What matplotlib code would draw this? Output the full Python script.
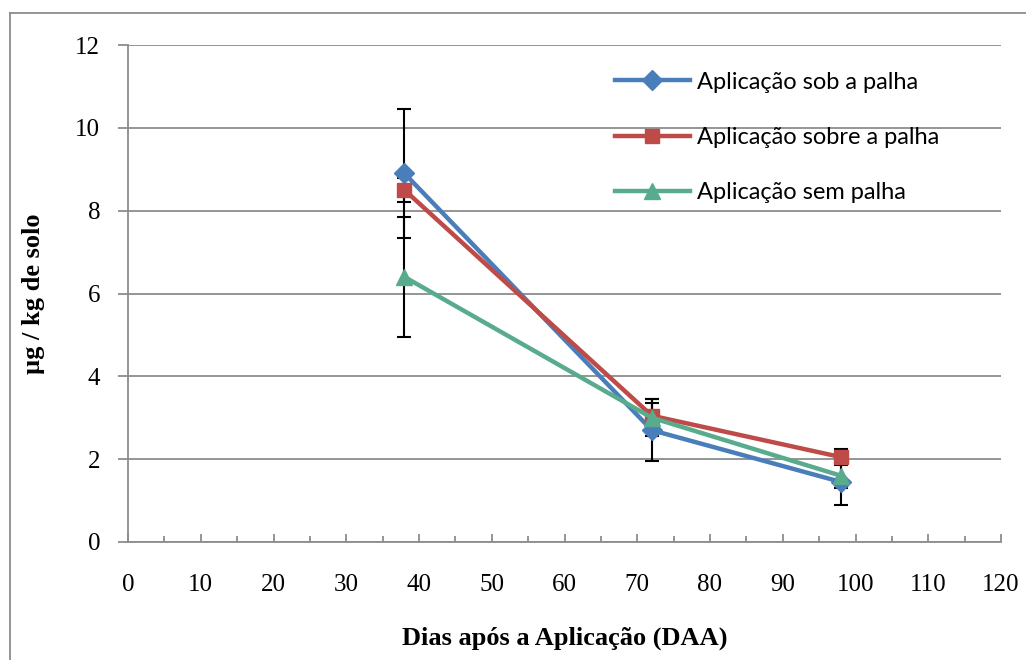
import matplotlib.pyplot as plt
from matplotlib.lines import Line2D
from matplotlib.ticker import MultipleLocator

# data
dias = [38, 72, 98]
sob_palha = [8.9, 2.7, 1.45]
sob_err = [1.55, 0.75, 0.55]
sobre_palha = [8.5, 3.05, 2.05]
sobre_err = [0.3, 0.3, 0.2]
sem_palha = [6.4, 3.0, 1.6]
sem_err = [1.45, 0.45, 0.3]

nomes = ["Aplicação sob a palha", "Aplicação sobre a palha", "Aplicação sem palha"]
cores = ["#4A7EBB", "#BE4B48", "#58AC8D"]
marcadores = ["D", "s", "^"]
tamanhos = [10, 10, 12]

serif = ["Liberation Serif", "DejaVu Serif"]

fig = plt.figure(figsize=(10.26, 6.6), dpi=100)
ax = fig.add_axes([128 / 1026, 1 - 542 / 660, (1001 - 128) / 1026, (542 - 45) / 660])

series = [(sob_palha, sob_err), (sobre_palha, sobre_err), (sem_palha, sem_err)]
for i, (vals, errs) in enumerate(series):
    ax.errorbar(dias, vals, yerr=errs, fmt="none", ecolor="black",
                elinewidth=1.5, capsize=5, capthick=1.5, zorder=3)
for i, (vals, errs) in enumerate(series):
    ax.plot(dias, vals, color=cores[i], lw=3.2, marker=marcadores[i],
            ms=tamanhos[i], zorder=4 + i)

ax.set_xlim(0, 120)
ax.set_ylim(0, 12)
ax.xaxis.set_major_locator(MultipleLocator(10))
ax.xaxis.set_minor_locator(MultipleLocator(5))
ax.yaxis.set_major_locator(MultipleLocator(2))
ax.grid(axis="y", color="#8c8c8c", lw=1.3)
ax.set_axisbelow(True)

for s in ["top", "right"]:
    ax.spines[s].set_visible(False)
for s in ["left", "bottom"]:
    ax.spines[s].set_color("#8c8c8c")
    ax.spines[s].set_linewidth(1.3)

ax.tick_params(axis="x", which="major", direction="in", length=6, width=1.3,
               color="#8c8c8c", pad=23)
ax.tick_params(axis="x", which="minor", direction="in", length=4, width=1.3,
               color="#8c8c8c")
ax.tick_params(axis="y", direction="out", length=7, width=1.3,
               color="#8c8c8c", pad=13)
for lab in ax.get_xticklabels() + ax.get_yticklabels():
    lab.set_family(serif)
    lab.set_fontsize(18)

ax.set_xlabel("Dias após a Aplicação (DAA)", family=serif, fontsize=19,
              fontweight="bold", labelpad=22)
ax.set_ylabel("µg / kg de solo", family=serif, fontsize=19,
              fontweight="bold", labelpad=22)

handles = [Line2D([], [], color=cores[i], lw=3.2, marker=marcadores[i],
                  ms=tamanhos[i]) for i in range(3)]
leg = ax.legend(handles, nomes, loc="upper left", bbox_to_anchor=(0.533, 0.989),
                frameon=False, prop={"family": ["Lato", "DejaVu Sans"], "size": 17},
                handlelength=3.2, handletextpad=0.3, labelspacing=1.45)

# outer chart border
fig.add_artist(Line2D([10 / 1026, 10 / 1026], [0, 1 - 13 / 660],
                      color="#8c8c8c", lw=1.3, transform=fig.transFigure))
fig.add_artist(Line2D([10 / 1026, 1], [1 - 13 / 660, 1 - 13 / 660],
                      color="#8c8c8c", lw=1.3, transform=fig.transFigure))

fig.savefig("out.png", dpi=100)
